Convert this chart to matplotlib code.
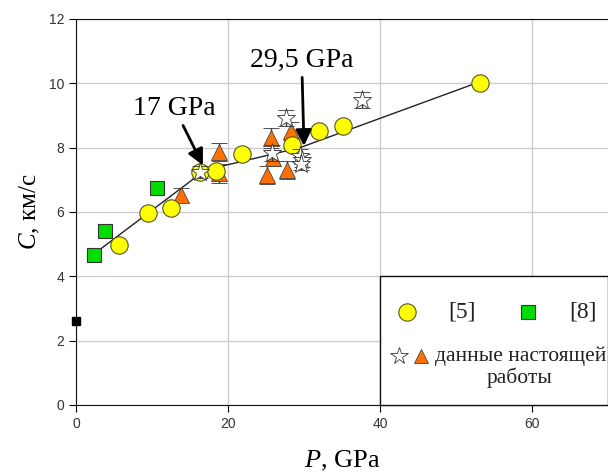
import matplotlib.pyplot as plt
from matplotlib.patches import Rectangle

plt.rcParams['mathtext.fontset'] = 'custom'
plt.rcParams['mathtext.rm'] = 'Liberation Serif'
plt.rcParams['mathtext.it'] = 'Liberation Serif:italic'

# ref [5]
p5 = [5.7, 9.5, 12.5, 16.3, 18.4, 21.9, 28.4, 32.0, 35.1, 53.2]
c5 = [4.97, 5.97, 6.12, 7.24, 7.27, 7.80, 8.08, 8.52, 8.67, 10.0]
# ref [8]
p8 = [2.4, 3.8, 10.6]
c8 = [4.66, 5.41, 6.74]
# zero-pressure point
p0 = [0.0]
c0 = [2.6]
# this work: triangles
pt = [13.8, 18.8, 18.8, 25.7, 25.9, 25.1, 27.8, 28.3]
ct = [6.53, 7.87, 7.20, 8.30, 7.68, 7.15, 7.30, 8.52]
et = [0.22, 0.28, 0.30, 0.30, 0.25, 0.28, 0.28, 0.28]
# this work: stars
ps = [16.3, 27.6, 25.8, 29.5, 29.7, 29.6, 37.6]
cs = [7.24, 8.92, 7.83, 7.75, 7.60, 7.50, 9.48]
es = [0.20, 0.25, 0.25, 0.20, 0.20, 0.20, 0.25]
# fit line with breaks at 17 and 29.5 GPa
pl = [2.4, 17.0, 29.5, 53.2]
cl = [4.70, 7.30, 8.00, 10.05]

fig = plt.figure(figsize=(6.08, 4.72), dpi=100)
ax = fig.add_axes([0.125, 0.142, 0.875, 0.818])

ax.plot(pl, cl, color='#222222', lw=1.0, zorder=2)
ax.plot(p8, c8, 's', ms=10, mfc='#00DD00', mec='#333333', mew=0.8, zorder=4)
ax.plot(p0, c0, 's', ms=6, color='black', zorder=4, clip_on=False)
ax.errorbar(pt, ct, yerr=et, fmt='^', ms=11, mfc='#FF7000', mec='#444444', mew=0.6,
            ecolor='#333333', elinewidth=1, capsize=6, zorder=3)
ax.plot(p5, c5, 'o', ms=12.5, mfc='#FFFF00', mec='#555522', mew=0.8, zorder=5)
ax.errorbar(ps, cs, yerr=es, fmt='*', ms=14, mfc='white', mec='#333333', mew=0.6,
            ecolor='#333333', elinewidth=1, capsize=6, zorder=6)

ax.set_xlim(0, 70)
ax.set_ylim(0, 12)
ax.set_xticks([0, 20, 40, 60])
ax.set_yticks([0, 2, 4, 6, 8, 10, 12])
ax.grid(True, color='#cccccc', lw=1)
ax.set_axisbelow(True)
ax.spines['right'].set_visible(False)
for s in ['left', 'bottom', 'top']:
    ax.spines[s].set_color('#111111')
ax.tick_params(direction='out', length=5, labelsize=10, labelcolor='#333333',
               labelfontfamily='Liberation Sans')

ax.set_xlabel('$P$, GPa', family='Liberation Serif', fontsize=19, labelpad=13)
ax.set_ylabel('$C$, км/с', family='Liberation Serif', fontsize=18, labelpad=5)

arrow = dict(arrowstyle='-|>', color='black', lw=2, mutation_scale=24,
             shrinkA=1, shrinkB=0)
ax.annotate('17 GPa', xy=(16.7, 7.45), xytext=(13.0, 9.2), ha='center', va='center',
            family='Liberation Serif', fontsize=20, zorder=8, arrowprops=arrow)
ax.annotate('29,5 GPa', xy=(30.0, 8.05), xytext=(29.7, 10.7), ha='center', va='center',
            family='Liberation Serif', fontsize=20, zorder=8, arrowprops=arrow)

# legend box
ax.add_patch(Rectangle((40, 0), 30, 4, facecolor='white', edgecolor='#111111',
                       lw=1, zorder=9, clip_on=False))
ax.plot([43.6], [2.89], 'o', ms=12.5, mfc='#FFFF00', mec='#555522', mew=0.8, zorder=10)
ax.text(50.8, 2.89, '[5]', ha='center', va='center', family='Liberation Serif',
        fontsize=17, color='#222222', zorder=10)
ax.plot([59.5], [2.89], 's', ms=10, mfc='#00DD00', mec='#333333', mew=0.8, zorder=10)
ax.text(66.7, 2.89, '[8]', ha='center', va='center', family='Liberation Serif',
        fontsize=17, color='#222222', zorder=10)
ax.plot([42.5], [1.52], '*', ms=13, mfc='white', mec='#333333', mew=0.6, zorder=10)
ax.plot([45.4], [1.52], '^', ms=10, mfc='#FF7000', mec='#444444', mew=0.6, zorder=10)
ax.text(47.2, 1.52, 'данные настоящей', ha='left', va='center', family='Liberation Serif',
        fontsize=15.5, color='#222222', zorder=10)
ax.text(58.4, 0.84, 'работы', ha='center', va='center', family='Liberation Serif',
        fontsize=15.5, color='#222222', zorder=10)

fig.savefig('out.png', dpi=100)
